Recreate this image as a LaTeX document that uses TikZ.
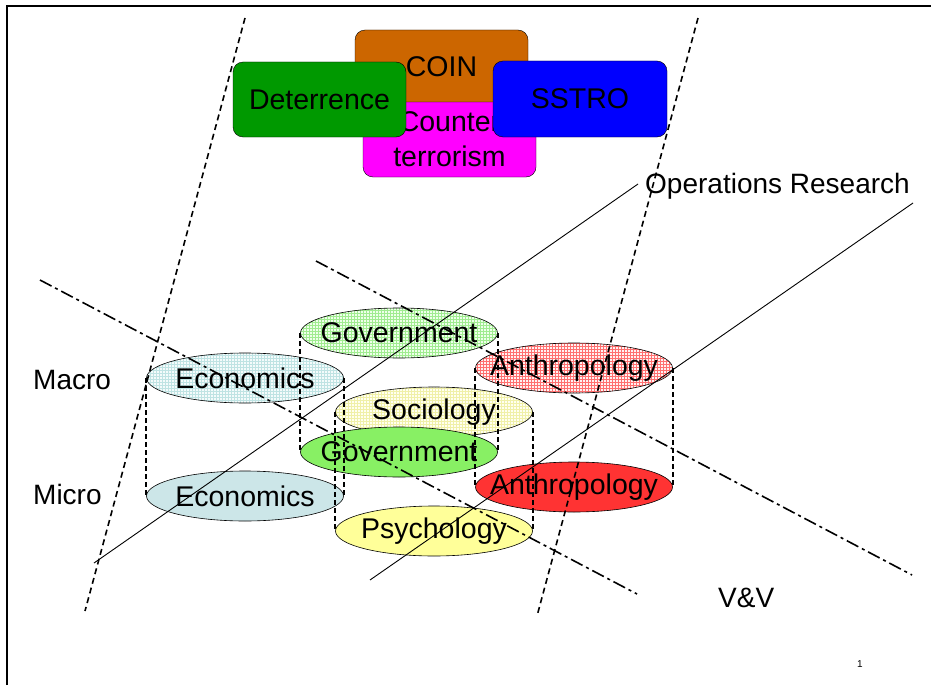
\documentclass[tikz,border=0pt]{standalone}
\usepackage{fontspec}
\setmainfont{Liberation Sans}
\usetikzlibrary{shapes.geometric,patterns}

\definecolor{coinorange}{HTML}{CC6600}
\definecolor{ctmagenta}{HTML}{FF00FF}
\definecolor{detgreen}{HTML}{009900}
\definecolor{sstroblue}{HTML}{0000FF}
\definecolor{ecolight}{HTML}{F4FBFB}
\definecolor{ecogrid}{HTML}{BFE3E3}
\definecolor{ecodark}{HTML}{CCE6E8}
\definecolor{govlight}{HTML}{EEFFEA}
\definecolor{govgrid}{HTML}{A0EC90}
\definecolor{govdark}{HTML}{88F064}
\definecolor{soclight}{HTML}{FFFFF0}
\definecolor{socgrid}{HTML}{F0F0A8}
\definecolor{psyyellow}{HTML}{FFFF99}
\definecolor{anthlight}{HTML}{FFF2F2}
\definecolor{anthgrid}{HTML}{FF7070}
\definecolor{anthdark}{HTML}{FF3333}

\begin{document}
\begin{tikzpicture}[x=1pt,y=-1pt]
\tikzset{
  topic/.style={rectangle,rounded corners=10pt,draw,thin,minimum width=173pt,minimum height=75pt,inner sep=0pt,align=center,font=\fontsize{28.5}{35}\selectfont},
  field/.style={ellipse,draw,line width=0.6pt,minimum width=197pt,minimum height=50pt,inner sep=0pt,font=\fontsize{28.5}{34}\selectfont},
  hatched/.style 2 args={preaction={fill=#1},pattern=grid,pattern color=#2},
  cylside/.style={line width=1.5pt,dash pattern=on 5pt off 3pt},
  axisline/.style={line width=1.6pt,dash pattern=on 6pt off 4pt},
  scaleline/.style={line width=1.6pt,dash pattern=on 13pt off 4pt on 3pt off 4pt},
  orline/.style={line width=0.9pt},
  sidetext/.style={anchor=base west,inner sep=0pt,font=\fontsize{28}{32}\selectfont}
}
\useasboundingbox (0,0) rectangle (931,685);
\draw[line width=2pt] (7,685) -- (7,6) -- (931,6);

\node[topic,fill=coinorange,minimum height=74pt] (n_coin) at (441.5,67) {COIN};
\node[topic,fill=ctmagenta] (n_counter) at (449.5,139.5) {Counter\\terrorism};
\node[topic,fill=detgreen] (n_deter) at (319.5,99.5) {Deterrence};
\node[topic,fill=sstroblue,minimum width=174pt,minimum height=76pt] (n_sstro) at (580,99) {SSTRO};

\node[field,hatched={ecolight}{ecogrid}] (n_ecoTop) at (245,378) {\makebox[0pt]{Economics}};
\node[field,fill=ecodark] (n_ecoBot) at (245,496) {\makebox[0pt]{Economics}};
\node[field,hatched={govlight}{govgrid}] (n_govTop) at (399,333) {\makebox[0pt]{Government}};
\node[field,hatched={anthlight}{anthgrid}] (n_anthTop) at (574,368) {\makebox[0pt]{Anthropology}};
\node[field,hatched={soclight}{socgrid}] (n_soc) at (434,412) {\makebox[0pt]{Sociology}};
\node[field,fill=govdark] (n_govBot) at (399,452) {\makebox[0pt]{Government}};
\node[field,fill=anthdark] (n_anthBot) at (574,487) {\makebox[0pt]{Anthropology}};
\node[field,fill=psyyellow] (n_psy) at (434,531) {\makebox[0pt]{Psychology}};

\draw[cylside] (n_ecoTop.west) -- (n_ecoBot.west);
\draw[cylside] (n_ecoTop.east) -- (n_ecoBot.east);
\draw[cylside] (n_govTop.west) -- (n_govBot.west);
\draw[cylside] (n_govTop.east) -- (n_govBot.east);
\draw[cylside] (n_soc.west) -- (n_psy.west);
\draw[cylside] (n_soc.east) -- (n_psy.east);
\draw[cylside] (n_anthTop.west) -- (n_anthBot.west);
\draw[cylside] (n_anthTop.east) -- (n_anthBot.east);

\node[sidetext] (n_or) at (645,193) {Operations Research};
\node[sidetext] (n_macro) at (33,389) {Macro};
\node[sidetext] (n_micro) at (33,504) {Micro};
\node[sidetext] (n_vv) at (718,607) {V\&V};
\node[anchor=base west,inner sep=0pt,font=\fontsize{10}{12}\selectfont] (n_page) at (857,667) {1};

\coordinate (c_axisAtop) at (245,18);
\coordinate (c_axisAbot) at (85,611);
\coordinate (c_axisBtop) at (698,18);
\coordinate (c_axisBbot) at (537,616);
\coordinate (c_scaleAl) at (40,280);
\coordinate (c_scaleAr) at (637,594);
\coordinate (c_scaleBl) at (316,261);
\coordinate (c_scaleBr) at (912,575);
\coordinate (c_orAl) at (94,563);
\coordinate (c_orAr) at (638,184);
\coordinate (c_orBl) at (370,580);
\coordinate (c_orBr) at (913,203);

\draw[axisline] (c_axisAtop) -- (c_axisAbot);
\draw[axisline] (c_axisBtop) -- (c_axisBbot);
\draw[scaleline] (c_scaleAl) -- (c_scaleAr);
\draw[scaleline] (c_scaleBl) -- (c_scaleBr);
\draw[orline] (c_orAl) -- (c_orAr);
\draw[orline] (c_orBl) -- (c_orBr);
\end{tikzpicture}
\end{document}
